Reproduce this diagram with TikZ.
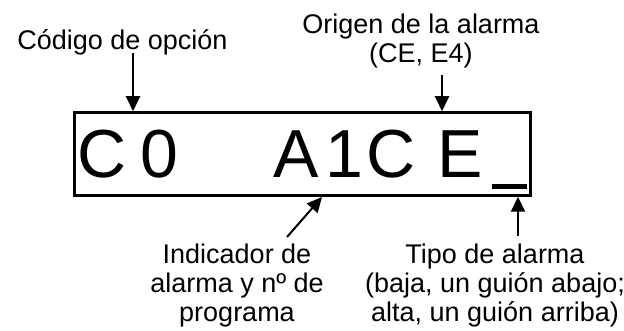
\documentclass[tikz,border=0pt]{standalone}
\usepackage{fontspec}
\setmainfont{Liberation Sans}
\usetikzlibrary{arrows.meta}

\begin{document}
\begin{tikzpicture}[
  x=1pt, y=-1pt,
  >={Triangle[width=14pt,length=15pt]},
  lcdbox/.style  ={draw,line width=2.5pt,minimum width=456pt,minimum height=83pt,
                   inner sep=0pt},
  lcdchar/.style ={anchor=base,inner sep=0pt,font=\fontsize{68}{70}\selectfont},
  note/.style    ={align=center,anchor=base,inner sep=0pt,
                   font=\fontsize{27}{29}\selectfont},
  pointer/.style ={->,line width=2pt},
]
\useasboundingbox (0,0) rectangle (624,331);

%% ============================================================
%%  Display
%% ============================================================
\node[lcdbox] (lcd) at (302.5,154) {};

\foreach \cx/\ch/\nm in {102.5/C/c1, 159/0/c2, 296/A/c5, 344/1/c6, 391.5/C/c7, 460.5/E/c8}
  \node[lcdchar] (\nm) at (\cx,178) {\ch};

%% cursor (alarm type mark)
\fill (492,184) rectangle (527,189);

%% ============================================================
%%  Labels (base = last line)
%% ============================================================
\node[note] (codigo) at (122.5,50) {Código de opción};
\node[note] (origen) at (421,63) {Origen de la alarma\\(CE, E4)};
\node[note] (indic)  at (237,321) {Indicador de\\alarma y nº de\\programa};
\node[note] (tipo)   at (495,321) {Tipo de alarma\\(baja, un guión abajo;\\alta, un guión arriba)};

%% ============================================================
%%  Pointers
%% ============================================================
\coordinate (p1) at (133,53);
\coordinate (p2) at (442,75);
\coordinate (p3) at (287,237);
\coordinate (p4) at (518,236);

\draw[pointer] (p1) -- (p1 |- lcd.north);
\draw[pointer] (p2) -- (p2 |- lcd.north);
\draw[pointer] (p3) -- (322,197);
\draw[pointer] (p4) -- (p4 |- lcd.south);

\end{tikzpicture}
\end{document}
